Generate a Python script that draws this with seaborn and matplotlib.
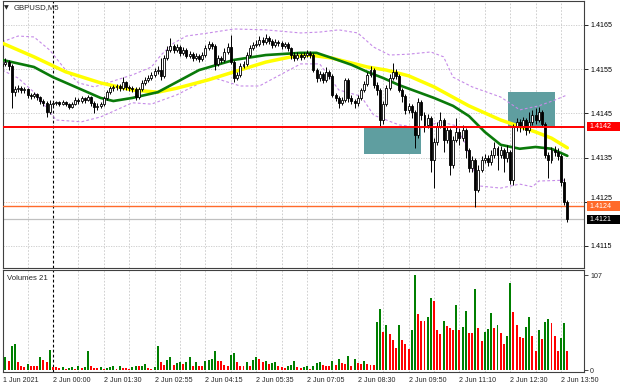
import numpy as np
import matplotlib
matplotlib.use("Agg")
import matplotlib.pyplot as plt
import seaborn as sns
from matplotlib.patches import Rectangle
from matplotlib.transforms import blended_transform_factory
from matplotlib import font_manager

# ---------------- data (GBPUSD, M5) ----------------
open_ = [
1.41557, 1.41562, 1.41566, 1.41557, 1.41498, 1.41505, 1.41507, 1.41503, 1.41505, 1.41492,
1.41489, 1.41494, 1.41487, 1.41478, 1.41474, 1.41453, 1.41471, 1.41474, 1.41476, 1.41471,
1.41476, 1.41471, 1.41464, 1.41471, 1.41480, 1.41478, 1.41485, 1.41480, 1.41487, 1.41474,
1.41464, 1.41467, 1.41471, 1.41485, 1.41498, 1.41507, 1.41510, 1.41512, 1.41507, 1.41521,
1.41510, 1.41507, 1.41505, 1.41487, 1.41505, 1.41519, 1.41526, 1.41530, 1.41537, 1.41546,
1.41548, 1.41535, 1.41575, 1.41593, 1.41603, 1.41593, 1.41600, 1.41587, 1.41593, 1.41580,
1.41584, 1.41575, 1.41580, 1.41573, 1.41582, 1.41598, 1.41607, 1.41603, 1.41562, 1.41575,
1.41571, 1.41589, 1.41600, 1.41566, 1.41530, 1.41537, 1.41557, 1.41562, 1.41582, 1.41598,
1.41605, 1.41607, 1.41616, 1.41612, 1.41621, 1.41614, 1.41605, 1.41612, 1.41609, 1.41603,
1.41607, 1.41598, 1.41582, 1.41575, 1.41582, 1.41578, 1.41582, 1.41587, 1.41582, 1.41548,
1.41530, 1.41539, 1.41526, 1.41544, 1.41535, 1.41492, 1.41485, 1.41474, 1.41480, 1.41526,
1.41485, 1.41478, 1.41474, 1.41485, 1.41503, 1.41517, 1.41537, 1.41548, 1.41514, 1.41503,
1.41435, 1.41471, 1.41507, 1.41530, 1.41544, 1.41535, 1.41503, 1.41489, 1.41458, 1.41467,
1.41453, 1.41401, 1.41476, 1.41446, 1.41424, 1.41440, 1.41345, 1.41385, 1.41422, 1.41435,
1.41390, 1.41412, 1.41333, 1.41390, 1.41408, 1.41394, 1.41412, 1.41367, 1.41327, 1.41345,
1.41277, 1.41322, 1.41345, 1.41349, 1.41340, 1.41356, 1.41372, 1.41356, 1.41367, 1.41349,
1.41363, 1.41299, 1.41419, 1.41431, 1.41422, 1.41435, 1.41412, 1.41431, 1.41446, 1.41435,
1.41453, 1.41426, 1.41356, 1.41345, 1.41367, 1.41363, 1.41354, 1.41295, 1.41250]

close = [
1.41562, 1.41566, 1.41557, 1.41498, 1.41505, 1.41507, 1.41503, 1.41505, 1.41492, 1.41489,
1.41494, 1.41487, 1.41478, 1.41474, 1.41453, 1.41471, 1.41474, 1.41476, 1.41471, 1.41476,
1.41471, 1.41464, 1.41471, 1.41480, 1.41478, 1.41485, 1.41480, 1.41487, 1.41474, 1.41464,
1.41467, 1.41471, 1.41485, 1.41498, 1.41507, 1.41510, 1.41512, 1.41507, 1.41521, 1.41510,
1.41507, 1.41505, 1.41487, 1.41505, 1.41519, 1.41526, 1.41530, 1.41537, 1.41546, 1.41548,
1.41535, 1.41575, 1.41593, 1.41603, 1.41593, 1.41600, 1.41587, 1.41593, 1.41580, 1.41584,
1.41575, 1.41580, 1.41573, 1.41582, 1.41598, 1.41607, 1.41603, 1.41562, 1.41575, 1.41571,
1.41589, 1.41600, 1.41566, 1.41530, 1.41537, 1.41557, 1.41562, 1.41582, 1.41598, 1.41605,
1.41607, 1.41616, 1.41612, 1.41621, 1.41614, 1.41605, 1.41612, 1.41609, 1.41603, 1.41607,
1.41598, 1.41582, 1.41575, 1.41582, 1.41578, 1.41582, 1.41587, 1.41582, 1.41548, 1.41530,
1.41539, 1.41526, 1.41544, 1.41535, 1.41492, 1.41485, 1.41474, 1.41480, 1.41526, 1.41485,
1.41478, 1.41474, 1.41485, 1.41503, 1.41517, 1.41537, 1.41548, 1.41514, 1.41503, 1.41435,
1.41471, 1.41507, 1.41530, 1.41544, 1.41535, 1.41503, 1.41489, 1.41458, 1.41467, 1.41453,
1.41401, 1.41476, 1.41446, 1.41424, 1.41440, 1.41345, 1.41385, 1.41422, 1.41435, 1.41390,
1.41412, 1.41333, 1.41390, 1.41408, 1.41394, 1.41412, 1.41367, 1.41327, 1.41345, 1.41277,
1.41322, 1.41345, 1.41349, 1.41340, 1.41356, 1.41372, 1.41356, 1.41367, 1.41349, 1.41363,
1.41299, 1.41419, 1.41431, 1.41422, 1.41435, 1.41412, 1.41431, 1.41446, 1.41435, 1.41453,
1.41426, 1.41356, 1.41345, 1.41367, 1.41363, 1.41354, 1.41295, 1.41250, 1.41210]

high = [
1.41571, 1.41575, 1.41571, 1.41562, 1.41512, 1.41514, 1.41512, 1.41510, 1.41507, 1.41496,
1.41498, 1.41496, 1.41489, 1.41483, 1.41478, 1.41480, 1.41478, 1.41478, 1.41478, 1.41480,
1.41478, 1.41474, 1.41476, 1.41487, 1.41485, 1.41489, 1.41487, 1.41492, 1.41489, 1.41478,
1.41474, 1.41476, 1.41489, 1.41503, 1.41512, 1.41514, 1.41517, 1.41517, 1.41532, 1.41523,
1.41514, 1.41512, 1.41510, 1.41510, 1.41526, 1.41532, 1.41537, 1.41544, 1.41553, 1.41557,
1.41575, 1.41582, 1.41603, 1.41621, 1.41607, 1.41607, 1.41605, 1.41600, 1.41598, 1.41591,
1.41589, 1.41587, 1.41584, 1.41589, 1.41605, 1.41614, 1.41612, 1.41607, 1.41582, 1.41580,
1.41598, 1.41609, 1.41627, 1.41571, 1.41544, 1.41564, 1.41569, 1.41589, 1.41605, 1.41612,
1.41616, 1.41625, 1.41623, 1.41630, 1.41625, 1.41618, 1.41618, 1.41616, 1.41614, 1.41612,
1.41612, 1.41600, 1.41589, 1.41589, 1.41587, 1.41589, 1.41593, 1.41591, 1.41587, 1.41553,
1.41546, 1.41544, 1.41555, 1.41548, 1.41539, 1.41496, 1.41489, 1.41487, 1.41530, 1.41530,
1.41492, 1.41483, 1.41492, 1.41507, 1.41523, 1.41544, 1.41557, 1.41553, 1.41521, 1.41507,
1.41478, 1.41514, 1.41539, 1.41564, 1.41550, 1.41539, 1.41507, 1.41494, 1.41474, 1.41471,
1.41458, 1.41485, 1.41480, 1.41453, 1.41449, 1.41444, 1.41394, 1.41431, 1.41453, 1.41440,
1.41422, 1.41417, 1.41399, 1.41440, 1.41417, 1.41424, 1.41417, 1.41372, 1.41354, 1.41349,
1.41333, 1.41354, 1.41358, 1.41356, 1.41367, 1.41385, 1.41376, 1.41376, 1.41372, 1.41379,
1.41367, 1.41426, 1.41440, 1.41437, 1.41442, 1.41440, 1.41453, 1.41458, 1.41462, 1.41464,
1.41458, 1.41431, 1.41363, 1.41374, 1.41376, 1.41372, 1.41358, 1.41304, 1.41254]

low = [
1.41553, 1.41557, 1.41548, 1.41462, 1.41489, 1.41498, 1.41496, 1.41496, 1.41485, 1.41483,
1.41485, 1.41480, 1.41471, 1.41467, 1.41442, 1.41449, 1.41467, 1.41469, 1.41467, 1.41469,
1.41467, 1.41460, 1.41462, 1.41469, 1.41471, 1.41474, 1.41474, 1.41478, 1.41467, 1.41451,
1.41458, 1.41462, 1.41467, 1.41480, 1.41494, 1.41501, 1.41503, 1.41501, 1.41503, 1.41503,
1.41501, 1.41498, 1.41480, 1.41483, 1.41501, 1.41514, 1.41521, 1.41526, 1.41532, 1.41539,
1.41526, 1.41530, 1.41571, 1.41589, 1.41587, 1.41589, 1.41580, 1.41582, 1.41575, 1.41575,
1.41569, 1.41571, 1.41566, 1.41569, 1.41578, 1.41593, 1.41596, 1.41548, 1.41557, 1.41564,
1.41566, 1.41584, 1.41562, 1.41521, 1.41526, 1.41532, 1.41553, 1.41557, 1.41578, 1.41593,
1.41600, 1.41603, 1.41605, 1.41607, 1.41607, 1.41598, 1.41600, 1.41603, 1.41596, 1.41598,
1.41591, 1.41573, 1.41569, 1.41571, 1.41571, 1.41573, 1.41578, 1.41575, 1.41544, 1.41521,
1.41523, 1.41519, 1.41521, 1.41528, 1.41487, 1.41478, 1.41462, 1.41469, 1.41476, 1.41476,
1.41471, 1.41462, 1.41467, 1.41480, 1.41498, 1.41512, 1.41532, 1.41507, 1.41492, 1.41419,
1.41426, 1.41467, 1.41503, 1.41526, 1.41528, 1.41498, 1.41476, 1.41449, 1.41451, 1.41440,
1.41372, 1.41394, 1.41435, 1.41408, 1.41417, 1.41317, 1.41281, 1.41379, 1.41417, 1.41363,
1.41383, 1.41311, 1.41327, 1.41385, 1.41379, 1.41388, 1.41349, 1.41317, 1.41317, 1.41238,
1.41272, 1.41317, 1.41338, 1.41331, 1.41333, 1.41349, 1.41322, 1.41349, 1.41317, 1.41340,
1.41290, 1.41288, 1.41410, 1.41408, 1.41412, 1.41401, 1.41406, 1.41424, 1.41426, 1.41431,
1.41419, 1.41349, 1.41304, 1.41338, 1.41354, 1.41345, 1.41286, 1.41243, 1.41204]

volume = [
7, 15, 10, 27, 29, 9, 4, 3, 7, 4, 4, 4, 15, 11, 9, 23, 3, 3, 2, 3,
1, 2, 3, 1, 5, 2, 3, 21, 5, 2, 2, 3, 1, 2, 3, 4, 1, 4, 2, 2,
1, 3, 4, 4, 5, 7, 2, 1, 3, 27, 9, 6, 11, 15, 6, 8, 9, 7, 9, 15,
5, 9, 5, 4, 10, 11, 12, 21, 10, 10, 6, 4, 17, 19, 9, 5, 4, 9, 4, 11,
15, 13, 9, 10, 7, 8, 9, 5, 3, 2, 5, 6, 10, 3, 2, 3, 5,
1, 4, 8, 9, 6, 5, 4, 10, 6, 12, 8, 7, 16, 4, 12, 8, 7, 10, 7, 6, 6,
54, 69, 43, 51, 41, 34, 25, 51, 34, 30, 24, 45, 107, 63, 56, 56, 60, 81, 78, 45,
41, 55, 50, 47, 45, 74, 45, 49, 67, 42, 42, 92, 48, 33, 43, 46, 64, 47, 51, 42,
30, 39, 99, 66, 51, 37, 36, 49, 60, 39, 21, 45, 35, 54, 58, 53, 39, 22, 36, 53, 21]

# moving averages / bands (bar index, price)
yellow_x = [0, 10, 20, 31, 41, 49, 55, 65, 73, 83, 91, 97, 104, 115, 121, 128, 136, 147, 157, 168, 173, 178]
yellow_y = [1.41609, 1.41578, 1.41544, 1.41519, 1.41503, 1.41498, 1.41507, 1.41526, 1.41544, 1.41566, 1.41578,
            1.41582, 1.41575, 1.41555, 1.41548, 1.41535, 1.41510, 1.41467, 1.41435, 1.41408, 1.41394, 1.41372]
green_x = [0, 10, 16, 24, 31, 35, 41, 49, 55, 62, 73, 83, 94, 99, 104, 110, 115, 120, 125, 136, 142, 147,
           152, 157, 163, 168, 173, 178]
green_y = [1.41571, 1.41555, 1.41532, 1.41507, 1.41485, 1.41478, 1.41485, 1.41498, 1.41521, 1.41548, 1.41571,
           1.41582, 1.41587, 1.41587, 1.41575, 1.41560, 1.41544, 1.41530, 1.41514, 1.41485, 1.41467, 1.41444,
           1.41408, 1.41379, 1.41370, 1.41374, 1.41370, 1.41354]
upper_x = [0, 5, 10, 15, 20, 24, 29, 34, 41, 47, 50, 54, 58, 65, 73, 83, 94, 100, 106, 112, 117, 122, 128,
           135, 139, 142, 148, 157, 163, 169, 174, 178]
upper_y = [1.41612, 1.41625, 1.41623, 1.41593, 1.41548, 1.41519, 1.41510, 1.41521, 1.41537, 1.41555, 1.41582,
           1.41609, 1.41625, 1.41632, 1.41641, 1.41639, 1.41632, 1.41634, 1.41639, 1.41632, 1.41600, 1.41582,
           1.41584, 1.41589, 1.41578, 1.41532, 1.41510, 1.41487, 1.41458, 1.41467, 1.41480, 1.41492]
lower_x = [0, 5, 10, 14, 17, 25, 31, 36, 41, 47, 55, 61, 66, 75, 81, 88, 94, 100, 106, 113, 117, 125, 132,
           138, 143, 146, 150, 157, 163, 167, 169, 178]
lower_y = [1.41548, 1.41530, 1.41498, 1.41462, 1.41435, 1.41431, 1.41442, 1.41458, 1.41474, 1.41471, 1.41492,
           1.41514, 1.41532, 1.41512, 1.41512, 1.41539, 1.41562, 1.41562, 1.41503, 1.41489, 1.41446, 1.41424,
           1.41417, 1.41431, 1.41422, 1.41379, 1.41286, 1.41281, 1.41290, 1.41284, 1.41297, 1.41299]

price_ticks = [1.4115, 1.4125, 1.4135, 1.4145, 1.4155, 1.4165]
time_tick_bars = [0.3, 16, 32, 48, 64, 80, 96, 112, 128, 144, 160, 176]
time_labels = ["1 Jun 2021", "2 Jun 00:00", "2 Jun 01:30", "2 Jun 02:55", "2 Jun 04:15", "2 Jun 05:35",
               "2 Jun 07:05", "2 Jun 08:30", "2 Jun 09:50", "2 Jun 11:10", "2 Jun 12:30", "2 Jun 13:50"]
level_red = 1.4142
level_orange = 1.4124
bid = 1.4121
zones = [(114.0, 131.9, 1.41358, 1.4142), (159.3, 174.1, 1.4142, 1.41498)]  # (bar0, bar1, p0, p1)
day_sep_bar = 16

# ---------------- style ----------------
sns.set_style("white")
avail = {f.name for f in font_manager.fontManager.ttflist}
narrow = 'Liberation Sans Narrow' in avail
plt.rcParams['font.family'] = ['Liberation Sans Narrow', 'DejaVu Sans'] if narrow else ['Liberation Sans', 'DejaVu Sans']
FS = 5.9 if narrow else 5.1
plt.rcParams['axes.linewidth'] = 0.8

W, H = 620, 388
fig = plt.figure(figsize=(W / 100, H / 100), dpi=100)
fig.patch.set_facecolor('white')


def px_axes(l, t, r, b):
    return fig.add_axes([l / W, 1 - b / H, (r - l) / W, (b - t) / H])


ax = px_axes(3, 1, 584, 268)
axv = px_axes(3, 270, 584, 372)

o = np.array(open_); c = np.array(close); h = np.array(high); l = np.array(low)
v = np.array(volume)
x = np.arange(len(c))

XL = (0.252, 183.24)
YL = (1.411002, 1.417043)
for a in (ax, axv):
    a.set_xlim(*XL)
    a.set_facecolor('white')
    for s in a.spines.values():
        s.set_color('#404040')
        s.set_linewidth(0.8)
ax.set_ylim(*YL)
axv.set_ylim(-2.26, 113.2)

# grid
grid_c = '#C8C8C8'
for p in price_ticks:
    ax.axhline(p, color='#F4B99C' if abs(p - 1.4125) < 1e-9 else grid_c, lw=0.6,
               linestyle=(0, (1.5, 1.5)), zorder=0.5)
for b in range(8, 184, 8):
    for a in (ax, axv):
        if b == day_sep_bar:
            a.axvline(b, color='black', lw=0.8, linestyle=(0, (2.5, 2)), zorder=0.6)
        else:
            a.axvline(b, color=grid_c, lw=0.6, linestyle=(0, (2, 2)), zorder=0.5)

# zones
for b0, b1, p0, p1 in zones:
    ax.add_patch(Rectangle((b0, p0), b1 - b0, p1 - p0, facecolor='#5F9EA0', edgecolor='none', zorder=1.5))

# horizontal levels
ax.axhline(bid, color='#C0C0C0', lw=0.9, zorder=1)
ax.axhline(level_orange, color='#FF6A2A', lw=1.0, zorder=3.5)

# bands & MAs (seaborn)
for xs, ys in ((upper_x, upper_y), (lower_x, lower_y)):
    sns.lineplot(x=xs, y=ys, ax=ax, color='#C68BE8', lw=0.8, linestyle=(0, (2.5, 2)), zorder=2.5)
sns.lineplot(x=yellow_x, y=yellow_y, ax=ax, color='#FFFF00', lw=2.5, zorder=3)
sns.lineplot(x=green_x, y=green_y, ax=ax, color='#0A7A0A', lw=1.9, zorder=3.2)

# candles
up = c >= o
ax.vlines(x, l, h, color='black', lw=0.7, zorder=4)
ax.bar(x, np.abs(c - o), bottom=np.minimum(o, c), width=0.62,
       color=np.where(up, 'white', 'black'), edgecolor='black', linewidth=0.6, zorder=5)

ax.axhline(level_red, color='#FF0000', lw=1.4, zorder=6)

# volumes
vcol = ['#FF0000'] + ['#007F00' if v[i] > v[i - 1] else '#FF0000' for i in range(1, len(v))]
axv.bar(x, v, width=0.62, color=vcol, linewidth=0, zorder=3)

# axes ticks
ax.set_xlabel(''); ax.set_ylabel('')
ax.yaxis.tick_right()
ax.set_yticks(price_ticks)
ax.set_yticklabels([f"{p:.4f}" for p in price_ticks])
ax.tick_params(axis='y', direction='out', length=3, width=0.6, pad=1.5, labelsize=FS, colors='black')
ax.tick_params(axis='x', bottom=False, labelbottom=False)
for lab, p in zip(ax.get_yticklabels(), price_ticks):
    if abs(p - level_orange) < 0.00015:
        lab.set_va('bottom')

axv.yaxis.tick_right()
axv.set_yticks([0, 107])
axv.set_yticklabels(['0', '107'])
axv.tick_params(axis='y', direction='out', length=3, width=0.6, pad=1.5, labelsize=FS)
axv.set_xticks(time_tick_bars)
axv.set_xticklabels(time_labels)
axv.tick_params(axis='x', direction='out', length=3, width=0.6, pad=0.5, labelsize=FS)
for lab in axv.get_xticklabels():
    lab.set_ha('left')

# boxed price labels on the right
tr = blended_transform_factory(ax.transAxes, ax.transData)
dy = (YL[1] - YL[0]) / 267.0
for val, fc in ((level_red, '#FF0000'), (level_orange, '#FF6A2A'), (bid, '#000000')):
    ax.add_patch(Rectangle((1.0 + 3 / 581, val - 4.8 * dy), 33 / 581, 9.6 * dy, transform=tr,
                           facecolor=fc, edgecolor='none', clip_on=False, zorder=10))
    ax.text(1.0 + 5 / 581, val, f"{val:.4f}", transform=tr, color='white', fontsize=FS,
            va='center', ha='left', clip_on=False, zorder=11)

# captions
fig.text(4 / W, 1 - 8 / H, '\u25BC', fontsize=4.5, family=['DejaVu Sans'], va='center', ha='left')
fig.text(14 / W, 1 - 8 / H, 'GBPUSD,M5', fontsize=FS + 0.5, va='center', ha='left')
fig.text(7 / W, 1 - 278 / H, 'Volumes 21', fontsize=FS + 0.5, va='center', ha='left')

fig.savefig('out.png', dpi=100, facecolor='white')
